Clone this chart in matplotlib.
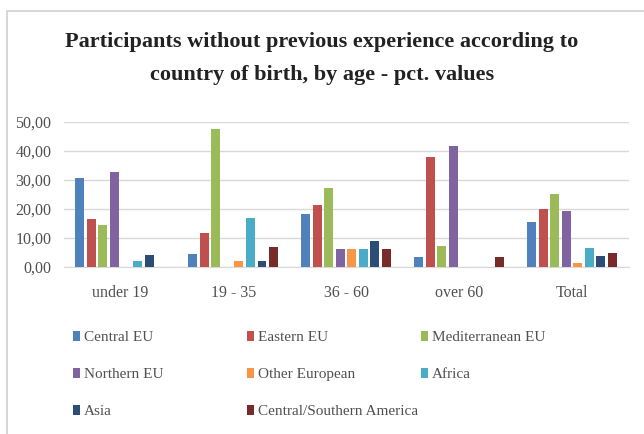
import numpy as np
import matplotlib.pyplot as plt
from matplotlib.patches import Rectangle

plt.rcParams['font.family'] = ['Liberation Serif', 'DejaVu Serif']

groups = ['under 19', '19 - 35', '36 - 60', 'over 60', 'Total']
series = ['Central EU', 'Eastern EU', 'Mediterranean EU', 'Northern EU',
          'Other European', 'Africa', 'Asia', 'Central/Southern America']

central_eu = [30.7, 4.6, 18.2, 3.5, 15.6]
eastern_eu = [16.5, 11.6, 21.2, 37.8, 19.8]
mediterranean_eu = [14.4, 47.5, 27.3, 7.1, 25.2]
northern_eu = [32.6, 0.0, 6.0, 41.5, 19.1]
other_european = [0.0, 2.2, 6.0, 0.0, 1.5]
africa = [1.9, 16.9, 6.0, 0.0, 6.4]
asia = [4.0, 2.2, 9.0, 0.0, 3.9]
cs_america = [0.0, 7.0, 6.0, 3.5, 4.7]

values = [central_eu, eastern_eu, mediterranean_eu, northern_eu,
          other_european, africa, asia, cs_america]
colors = ['#4F81BD', '#C0504D', '#9BBB59', '#8064A2',
          '#F79646', '#4BACC6', '#2C4D75', '#772C2A']

fig = plt.figure(figsize=(6.44, 4.34), dpi=100)
ax = fig.add_axes([0.099, 0.385, 0.877, 0.335])

x = np.arange(len(groups))
step = 0.102
handles = []
for i, (name, vals) in enumerate(zip(series, values)):
    b = ax.bar(x + (i - 3.5) * step, vals, width=step * 0.78,
               color=colors[i], label=name, zorder=3)
    handles.append(b)

ax.set_ylim(0, 50)
ax.set_xlim(-0.5, len(groups) - 0.5)
ax.set_yticks(np.arange(0, 51, 10))
ax.set_yticklabels([f'{v:.2f}'.replace('.', ',') for v in range(0, 51, 10)])
ax.set_xticks(x)
ax.set_xticklabels(groups)
ax.tick_params(axis='both', length=0, labelsize=11.5, colors='#505050')
ax.tick_params(axis='x', pad=13)
ax.tick_params(axis='y', pad=9)
ax.grid(axis='y', color='#D9D9D9', linewidth=1, zorder=0)
for s in ['top', 'right', 'left']:
    ax.spines[s].set_visible(False)
ax.spines['bottom'].set_color('#D9D9D9')

fig.text(0.5, 0.865, 'Participants without previous experience according to\n'
         'country of birth, by age - pct. values',
         ha='center', va='center', fontsize=16, fontweight='bold',
         color='#222222', linespacing=1.85)

# legend laid out row by row in three fixed-width columns
col_x = [0.114, 0.384, 0.654]
for c in range(3):
    idx = list(range(c, len(series), 3))
    leg = fig.legend([handles[i] for i in idx], [series[i] for i in idx],
                     loc='upper left', bbox_to_anchor=(col_x[c], 0.237),
                     frameon=False, fontsize=11, handlelength=0.45,
                     handleheight=0.6, handletextpad=0.25,
                     labelspacing=1.55, borderaxespad=0, borderpad=0)
    for t in leg.get_texts():
        t.set_color('#505050')

fig.patches.append(Rectangle((0.011, -0.05), 1.1, 1.025, transform=fig.transFigure,
                             fill=False, edgecolor='#D0D0D0', linewidth=1.2))

fig.savefig('out.png', dpi=100)
